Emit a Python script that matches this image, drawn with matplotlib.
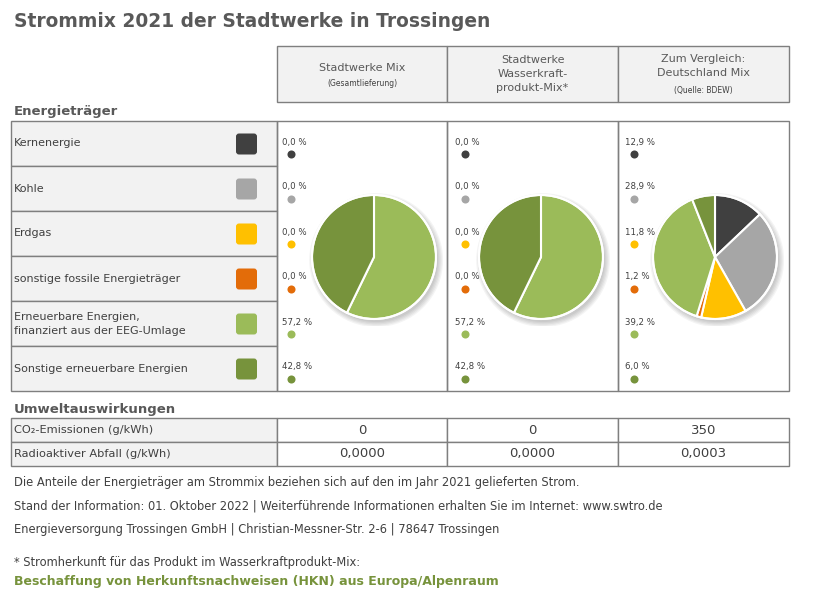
import matplotlib.pyplot as plt
from matplotlib.patches import Rectangle, FancyBboxPatch, Circle

# Energy sources (rows) and their colours
categories = ["Kernenergie", "Kohle", "Erdgas", "sonstige fossile Energieträger",
              "Erneuerbare Energien,\nfinanziert aus der EEG-Umlage",
              "Sonstige erneuerbare Energien"]
cat_colors = ["#404040", "#a6a6a6", "#ffc000", "#e36c09", "#9bbb59", "#77933c"]

# shares in percent per column
stadtwerke_mix = [0.0, 0.0, 0.0, 0.0, 57.2, 42.8]
wasserkraft_mix = [0.0, 0.0, 0.0, 0.0, 57.2, 42.8]
deutschland_mix = [12.9, 28.9, 11.8, 1.2, 39.2, 6.0]

# column headers: (main lines, small note)
headers = [("Stadtwerke Mix", "(Gesamtlieferung)"),
           ("Stadtwerke\nWasserkraft-\nprodukt-Mix*", None),
           ("Zum Vergleich:\nDeutschland Mix", "(Quelle: BDEW)")]

impact_labels = ["CO₂-Emissionen (g/kWh)", "Radioaktiver Abfall (g/kWh)"]
co2_emissions = [0, 0, 350]
radioactive_waste = [0.0000, 0.0000, 0.0003]

footer_lines = [
    "Die Anteile der Energieträger am Strommix beziehen sich auf den im Jahr 2021 gelieferten Strom.",
    "Stand der Information: 01. Oktober 2022 | Weiterführende Informationen erhalten Sie im Internet: www.swtro.de",
    "Energieversorgung Trossingen GmbH | Christian-Messner-Str. 2-6 | 78647 Trossingen",
]

W, H = 821, 596
LINE = "#7f7f7f"
FILL = "#f2f2f2"
TXT = "#404040"
HEAD = "#595959"

fig = plt.figure(figsize=(W / 100, H / 100), dpi=100)
ax = fig.add_axes([0, 0, 1, 1])
ax.set_xlim(0, W)
ax.set_ylim(H, 0)
ax.axis("off")

xl = 11
xc = [277, 447, 618, 789]
top, rh = 121, 45

ax.text(14, 27, "Strommix 2021 der Stadtwerke in Trossingen", fontsize=13.4,
        fontweight="bold", color=HEAD, va="baseline")

# header boxes
for i, (main, note) in enumerate(headers):
    ax.add_patch(Rectangle((xc[i], 46), xc[i + 1] - xc[i], 56, fc=FILL, ec=LINE, lw=1))
    cx = (xc[i] + xc[i + 1]) / 2
    if note is None:
        ax.text(cx, 74, main, ha="center", va="center", fontsize=8, color=HEAD,
                linespacing=1.45)
    elif "\n" in main:
        ax.text(cx, 66, main, ha="center", va="center", fontsize=8, color=HEAD,
                linespacing=1.45)
        ax.text(cx, 90, note, ha="center", va="center", fontsize=5.5, color=TXT)
    else:
        ax.text(cx, 68, main, ha="center", va="center", fontsize=8, color=HEAD)
        ax.text(cx, 84, note, ha="center", va="center", fontsize=5.5, color=TXT)

ax.text(14, 115, "Energieträger", fontsize=9.5, fontweight="bold", color=HEAD,
        va="baseline")

# legend column
for i, (cat, col) in enumerate(zip(categories, cat_colors)):
    y0 = top + i * rh
    ax.add_patch(Rectangle((xl, y0), xc[0] - xl, rh, fc=FILL, ec=LINE, lw=1))
    ax.text(14, y0 + rh / 2, cat, fontsize=8, color=TXT, va="center",
            linespacing=1.5)
    ax.add_patch(FancyBboxPatch((236, y0 + 12.5), 21, 21,
                                boxstyle="round,pad=0,rounding_size=3",
                                fc=col, ec="none"))

# pie columns
mixes = [stadtwerke_mix, wasserkraft_mix, deutschland_mix]
txt_x = [282, 455, 625]
dot_x = [291, 465, 634]
pie_c = [(374, 257), (541, 257), (715, 257)]
r = 62
for j, mix in enumerate(mixes):
    ax.add_patch(Rectangle((xc[j], top), xc[j + 1] - xc[j], 6 * rh, fc="none",
                           ec=LINE, lw=1))
    for i, v in enumerate(mix):
        y0 = top + i * rh
        lab = f"{v:.1f}".replace(".", ",") + " %"
        ax.text(txt_x[j], y0 + 21, lab, fontsize=6.2, color=TXT, va="center")
        ax.plot(dot_x[j], y0 + 33, "o", ms=5.8, color=cat_colors[i], mec="none")

    R = r * 1.12
    cx, cy = pie_c[j]
    pax = fig.add_axes([(cx - R) / W, 1 - (cy + R) / H, 2 * R / W, 2 * R / H])
    for k in range(5):
        pax.add_patch(Circle((0.035, -0.05), 1.0 + 0.02 * k, fc="black",
                             alpha=0.045, lw=0))
    vals = [v for v in mix if v > 0]
    cols = [c for v, c in zip(mix, cat_colors) if v > 0]
    pax.pie(vals, colors=cols, startangle=90, counterclock=False,
            wedgeprops=dict(edgecolor="white", linewidth=1.5))
    pax.add_patch(Circle((0, 0), 1.0, fc="none", ec="white", lw=1.5))
    pax.set_xlim(-1.12, 1.12)
    pax.set_ylim(-1.12, 1.12)
    pax.set_aspect("equal")
    pax.axis("off")

# environmental impact table
ax.text(14, 413, "Umweltauswirkungen", fontsize=9.5, fontweight="bold",
        color=HEAD, va="baseline")
impact_vals = [[str(v) for v in co2_emissions],
               [f"{v:.4f}".replace(".", ",") for v in radioactive_waste]]
for i, lab in enumerate(impact_labels):
    y0 = 418 + i * 24
    ax.add_patch(Rectangle((xl, y0), xc[0] - xl, 24, fc=FILL, ec=LINE, lw=1))
    ax.text(14, y0 + 12, lab, fontsize=8.2, color=TXT, va="center")
    for j in range(3):
        ax.add_patch(Rectangle((xc[j], y0), xc[j + 1] - xc[j], 24, fc="white",
                               ec=LINE, lw=1))
        ax.text((xc[j] + xc[j + 1]) / 2, y0 + 12, impact_vals[i][j],
                fontsize=9.5, color=TXT, ha="center", va="center")

for k, line in enumerate(footer_lines):
    ax.text(14, 486 + k * 23.5, line, fontsize=8.3, color=TXT, va="baseline")

ax.text(14, 566, "* Stromherkunft für das Produkt im Wasserkraftprodukt-Mix:",
        fontsize=8.3, color=TXT, va="baseline")
ax.text(14, 585, "Beschaffung von Herkunftsnachweisen (HKN) aus Europa/Alpenraum",
        fontsize=9, fontweight="bold", color="#77933c", va="baseline")

fig.savefig("out.png", dpi=100)
